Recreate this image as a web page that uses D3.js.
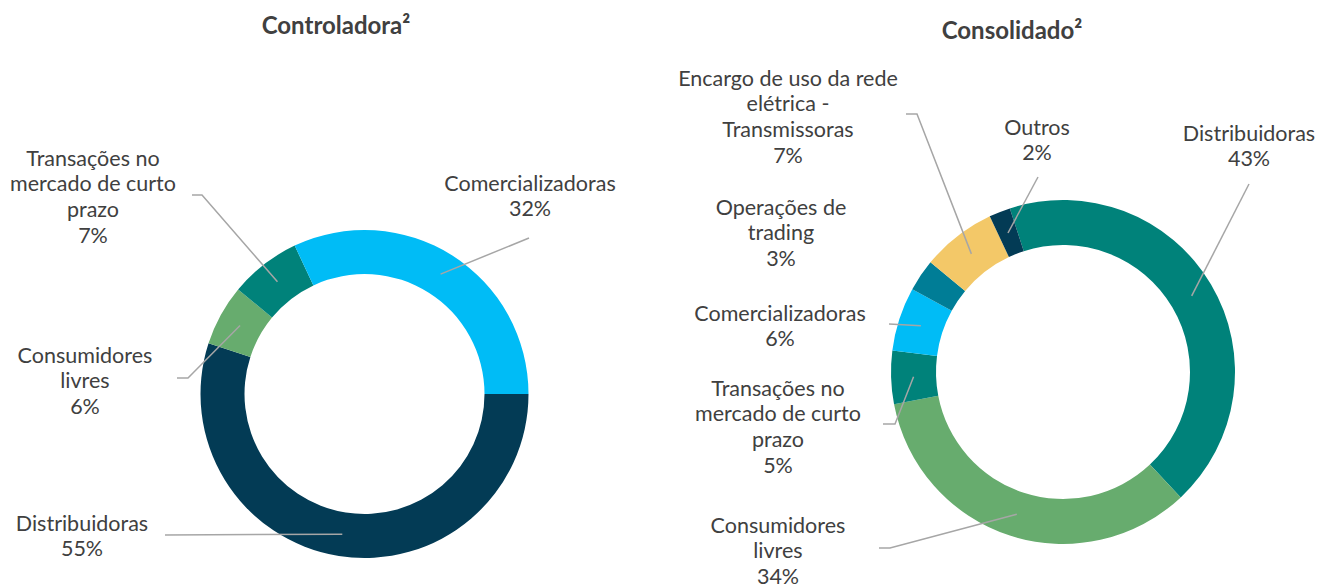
<!DOCTYPE html>
<html>
<head>
<meta charset="utf-8">
<script src="https://cdn.jsdelivr.net/npm/d3@7"></script>
<style>
  html, body { margin: 0; padding: 0; background: #fff; }
  svg text { font-family: Lato, "Open Sans", sans-serif; fill: #404040; }
</style>
</head>
<body>
<div id="chart"></div>
<script>
// --- data ---
const leftTitle = "Controladora²";
const leftCategories = ["Distribuidoras", "Consumidores\nlivres", "Transações no\nmercado de curto\nprazo", "Comercializadoras"];
const leftValues = [55, 6, 7, 32];

const rightTitle = "Consolidado²";
const rightCategories = ["Distribuidoras", "Consumidores\nlivres", "Transações no\nmercado de curto\nprazo", "Comercializadoras", "Operações de\ntrading", "Encargo de uso da rede\nelétrica -\nTransmissoras", "Outros"];
const rightValues = [43, 34, 5, 6, 3, 7, 2];

const leftColors = ["#033b55", "#67ac6e", "#00827a", "#00bcf6"];
const rightColors = ["#00827a", "#67ac6e", "#00827a", "#00bcf6", "#007d96", "#f3c868", "#033b55"];

const width = 1319, height = 585;
const svg = d3.select("#chart").append("svg")
  .attr("width", width)
  .attr("height", height);

const lineH = 25.8;

// label layout: text centre x, first line middle y, leader points (text side)
const leftLayout = [
  {x: 82, y: 523, leader: [[165, 535]]},
  {x: 85, y: 355, leader: [[177, 378], [188, 378]]},
  {x: 93, y: 158, leader: [[192, 195], [202, 195]]},
  {x: 530, y: 183, leader: [[529, 238]]}
];
const rightLayout = [
  {x: 1249, y: 133, leader: [[1249, 184]]},
  {x: 778, y: 525, leader: [[879, 548], [890, 548]]},
  {x: 778, y: 388, leader: [[883, 424], [895, 424]]},
  {x: 780, y: 313, leader: [[889, 324]]},
  {x: 781, y: 207, leader: null},
  {x: 788, y: 78, leader: [[906, 114], [917, 114]]},
  {x: 1037, y: 127, leader: [[1038, 177]]}
];

function donut(opts) {
  const g = svg.append("g");

  g.append("text")
    .attr("x", opts.titleX)
    .attr("y", opts.titleY)
    .attr("text-anchor", "middle")
    .style("font-size", "24px")
    .style("font-weight", "bold")
    .text(opts.title);

  const pie = d3.pie()
    .sort(null)
    .startAngle(opts.start * Math.PI / 180)
    .endAngle((opts.start + 360) * Math.PI / 180);

  const arcs = pie(opts.values);
  const arc = d3.arc().innerRadius(opts.r0).outerRadius(opts.r1);

  const ring = g.append("g").attr("transform", "translate(" + opts.cx + "," + opts.cy + ")");
  ring.selectAll("path")
    .data(arcs)
    .join("path")
    .attr("d", arc)
    .attr("fill", (d, i) => opts.colors[i]);

  // leader lines
  arcs.forEach((d, i) => {
    const lay = opts.layout[i];
    if (!lay.leader) return;
    const c = arc.centroid(d);
    const pts = lay.leader.concat([[c[0] + opts.cx, c[1] + opts.cy]]);
    g.append("path")
      .attr("d", d3.line()(pts))
      .attr("fill", "none")
      .attr("stroke", "#a6a6a6")
      .attr("stroke-width", 1.5);
  });

  // labels
  arcs.forEach((d, i) => {
    const lay = opts.layout[i];
    const lines = opts.categories[i].split("\n").concat([opts.values[i] + "%"]);
    const t = g.append("text")
      .attr("text-anchor", "middle")
      .style("font-size", "21.5px");
    lines.forEach((s, k) => {
      t.append("tspan")
        .attr("x", lay.x)
        .attr("y", lay.y + k * lineH + 7.5)
        .text(s);
    });
  });
}

donut({
  title: leftTitle, titleX: 336, titleY: 34,
  categories: leftCategories, values: leftValues, colors: leftColors,
  cx: 364.5, cy: 394, r0: 120, r1: 164, start: 90, layout: leftLayout
});

donut({
  title: rightTitle, titleX: 1012, titleY: 39,
  categories: rightCategories, values: rightValues, colors: rightColors,
  cx: 1063, cy: 372, r0: 127, r1: 172, start: -18, layout: rightLayout
});
</script>
</body>
</html>
